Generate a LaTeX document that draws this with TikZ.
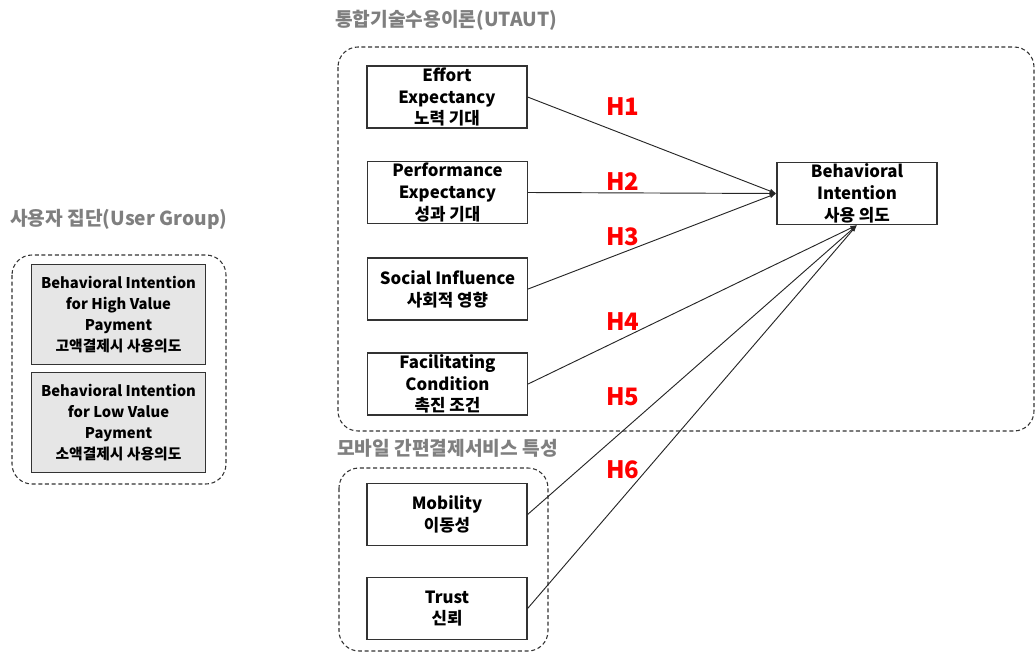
\documentclass[tikz,border=0pt]{standalone}
\usepackage{fontspec}
\setmainfont{Noto Sans CJK KR}
\usetikzlibrary{arrows.meta}
\definecolor{titlegray}{HTML}{7F7F7F}
\definecolor{hred}{HTML}{FF0000}
\definecolor{boxgray}{HTML}{E6E6E6}
\tikzset{
  box/.style={draw=black!80, line width=0.9pt, fill=white, inner sep=0pt, align=center,
    minimum width=120pt, minimum height=46.5pt,
    font=\fontsize{12.6}{16.3}\selectfont\bfseries},
  ubox/.style={box, fill=boxgray, minimum width=131pt, minimum height=75pt,
    font=\fontsize{11.1}{15.6}\selectfont\bfseries},
  grp/.style={draw=black!80, line width=0.8pt, dash pattern=on 3pt off 2pt, rounded corners=15pt},
  grptitle/.style={text=titlegray, anchor=west, inner sep=0pt, font=\fontsize{14.4}{16}\selectfont\bfseries},
  hyp/.style={text=hred, inner sep=0pt, font=\fontsize{18}{20}\selectfont\bfseries},
  link/.style={draw=black!85, line width=0.7pt, -{Latex[length=5pt,width=3.5pt]}}
}
\begin{document}
\begin{tikzpicture}[x=0.75pt,y=-0.75pt]
\useasboundingbox (0,0) rectangle (1036,653);
% group frames
\draw[grp] (338,47) rectangle (1034,431);
\draw[grp] (339,468) rectangle (548,651);
\draw[grp] (12,255) rectangle (226,484);
% titles
\node[grptitle] (t1) at (335,20) {통합기술수용이론(UTAUT)};
\node[grptitle] (t2) at (337,448) {모바일 간편결제서비스 특성};
\node[grptitle] (t3) at (10,219) {사용자 집단(User Group)};
% boxes
\node[box] (ee) at (447,97) {Effort\\Expectancy\\노력 기대};
\node[box] (pe) at (447.5,192.5) {Performance\\Expectancy\\성과 기대};
\node[box] (si) at (447.5,289) {Social Influence\\사회적 영향};
\node[box] (fc) at (447.5,384) {Facilitating\\Condition\\촉진 조건};
\node[box] (bi) at (857,193.5) {Behavioral\\Intention\\사용 의도};
\node[box] (mo) at (447,514.5) {Mobility\\이동성};
\node[box] (tr) at (447,608.5) {Trust\\신뢰};
\node[ubox] (hv) at (118.5,314.5) {Behavioral Intention\\for High Value\\Payment\\고액결제시 사용의도};
\node[ubox] (lv) at (118.5,422.5) {Behavioral Intention\\for Low Value\\Payment\\소액결제시 사용의도};
% links
\draw[link] (ee.east) -- (bi.west);
\draw[link] (pe.east) -- (bi.west);
\draw[link] (si.east) -- (bi.west);
\draw[link] (fc.east) -- (bi.south);
\draw[link] (mo.east) -- (bi.south);
\draw[link] (tr.east) -- (bi.south);
% hypothesis labels
\node[hyp] (h1) at (623,107) {H1};
\node[hyp] (h2) at (623,182) {H2};
\node[hyp] (h3) at (623,237) {H3};
\node[hyp] (h4) at (623,322) {H4};
\node[hyp] (h5) at (623,397) {H5};
\node[hyp] (h6) at (623,470) {H6};
\end{tikzpicture}
\end{document}
